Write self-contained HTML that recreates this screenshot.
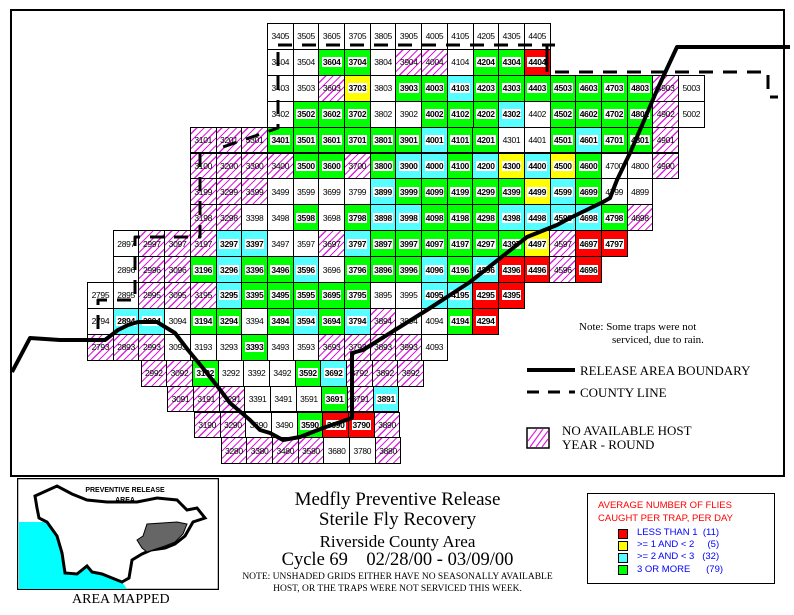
<!DOCTYPE html>
<html><head><meta charset="utf-8"><style>
*{margin:0;padding:0;box-sizing:border-box}
body{width:794px;height:615px;background:#fff;position:relative;overflow:hidden;font-family:"Liberation Sans",sans-serif}
.frame{position:absolute;left:10px;top:9px;width:775px;height:468px;border:2px solid #000}
.row{position:absolute;display:flex;height:26.9px}
.row i{font-style:normal;display:flex;align-items:center;justify-content:center;width:26.7px;height:26.9px;margin-right:-1px;border:1px solid #000;background:#fff;font-size:8.5px;color:#000;letter-spacing:-0.3px}
.row i.g,.row i.c,.row i.y,.row i.x{font-weight:bold}
.row i.g{background:#00ff00}.row i.c{background:#55ffff}.row i.y{background:#ffff00}.row i.x{background:#ff0000}
.row i.g span,.row i.c span,.row i.y span,.row i.x span{background:#fff;padding:0 1px}
.row i.h{background:repeating-linear-gradient(-45deg,#fff 0 4px,#e020e0 4px 5.2px)}
.serif{font-family:"Liberation Serif",serif;position:absolute;white-space:nowrap}
</style></head><body>
<div class="frame"></div>

<div class="row" style="top:23px;left:267px"><i>3405</i><i>3505</i><i>3605</i><i>3705</i><i>3805</i><i>3905</i><i>4005</i><i>4105</i><i>4205</i><i>4305</i><i>4405</i></div>
<div class="row" style="top:48.9px;left:267px"><i>3404</i><i>3504</i><i class="g"><span>3604</span></i><i class="g"><span>3704</span></i><i>3804</i><i class="h">3904</i><i class="h">4004</i><i>4104</i><i class="g"><span>4204</span></i><i class="g"><span>4304</span></i><i class="x"><span>4404</span></i></div>
<div class="row" style="top:74.8px;left:267px"><i>3403</i><i>3503</i><i class="h">3603</i><i class="y"><span>3703</span></i><i>3803</i><i class="g"><span>3903</span></i><i class="g"><span>4003</span></i><i class="c"><span>4103</span></i><i class="g"><span>4203</span></i><i class="g"><span>4303</span></i><i class="g"><span>4403</span></i><i class="g"><span>4503</span></i><i class="g"><span>4603</span></i><i class="g"><span>4703</span></i><i class="g"><span>4803</span></i><i class="h">4903</i><i>5003</i></div>
<div class="row" style="top:100.7px;left:267px"><i>3402</i><i class="g"><span>3502</span></i><i class="g"><span>3602</span></i><i class="g"><span>3702</span></i><i>3802</i><i>3902</i><i class="g"><span>4002</span></i><i class="g"><span>4102</span></i><i class="g"><span>4202</span></i><i class="c"><span>4302</span></i><i>4402</i><i class="g"><span>4502</span></i><i class="g"><span>4602</span></i><i class="g"><span>4702</span></i><i class="g"><span>4802</span></i><i class="h">4902</i><i>5002</i></div>
<div class="row" style="top:126.6px;left:189.9px"><i class="h">3101</i><i class="h">3201</i><i class="h">3301</i><i class="g"><span>3401</span></i><i class="g"><span>3501</span></i><i class="g"><span>3601</span></i><i class="g"><span>3701</span></i><i class="g"><span>3801</span></i><i class="g"><span>3901</span></i><i class="c"><span>4001</span></i><i class="g"><span>4101</span></i><i class="g"><span>4201</span></i><i>4301</i><i>4401</i><i class="g"><span>4501</span></i><i class="c"><span>4601</span></i><i class="g"><span>4701</span></i><i class="g"><span>4801</span></i><i class="h">4901</i></div>
<div class="row" style="top:152.5px;left:189.9px"><i class="h">3100</i><i class="h">3200</i><i class="h">3300</i><i class="h">3400</i><i class="g"><span>3500</span></i><i class="g"><span>3600</span></i><i class="h">3700</i><i class="g"><span>3800</span></i><i class="c"><span>3900</span></i><i class="c"><span>4000</span></i><i class="g"><span>4100</span></i><i class="c"><span>4200</span></i><i class="y"><span>4300</span></i><i class="c"><span>4400</span></i><i class="y"><span>4500</span></i><i class="g"><span>4600</span></i><i>4700</i><i>4800</i><i class="h">4900</i></div>
<div class="row" style="top:178.4px;left:189.9px"><i class="h">3199</i><i class="h">3299</i><i class="h">3399</i><i>3499</i><i>3599</i><i>3699</i><i>3799</i><i class="c"><span>3899</span></i><i class="g"><span>3999</span></i><i class="g"><span>4099</span></i><i class="g"><span>4199</span></i><i class="g"><span>4299</span></i><i class="g"><span>4399</span></i><i class="y"><span>4499</span></i><i class="c"><span>4599</span></i><i class="g"><span>4699</span></i><i>4799</i><i>4899</i></div>
<div class="row" style="top:204.3px;left:189.9px"><i class="h">3198</i><i class="h">3298</i><i>3398</i><i>3498</i><i class="g"><span>3598</span></i><i>3698</i><i class="g"><span>3798</span></i><i class="c"><span>3898</span></i><i class="c"><span>3998</span></i><i class="g"><span>4098</span></i><i class="g"><span>4198</span></i><i class="g"><span>4298</span></i><i class="c"><span>4398</span></i><i class="c"><span>4498</span></i><i class="c"><span>4598</span></i><i class="c"><span>4698</span></i><i class="g"><span>4798</span></i><i class="h">4898</i></div>
<div class="row" style="top:230.2px;left:112.8px"><i>2897</i><i class="h">2997</i><i class="h">3097</i><i class="h">3197</i><i class="c"><span>3297</span></i><i class="c"><span>3397</span></i><i>3497</i><i>3597</i><i class="h">3697</i><i class="c"><span>3797</span></i><i class="g"><span>3897</span></i><i class="g"><span>3997</span></i><i class="g"><span>4097</span></i><i class="g"><span>4197</span></i><i class="g"><span>4297</span></i><i class="g"><span>4397</span></i><i class="y"><span>4497</span></i><i class="h">4597</i><i class="x"><span>4697</span></i><i class="x"><span>4797</span></i></div>
<div class="row" style="top:256.1px;left:112.8px"><i>2896</i><i class="h">2996</i><i class="h">3096</i><i class="g"><span>3196</span></i><i class="c"><span>3296</span></i><i class="g"><span>3396</span></i><i class="g"><span>3496</span></i><i class="c"><span>3596</span></i><i>3696</i><i class="g"><span>3796</span></i><i class="g"><span>3896</span></i><i class="g"><span>3996</span></i><i class="c"><span>4096</span></i><i class="g"><span>4196</span></i><i class="c"><span>4296</span></i><i class="x"><span>4396</span></i><i class="x"><span>4496</span></i><i class="h">4596</i><i class="x"><span>4696</span></i></div>
<div class="row" style="top:282px;left:87.1px"><i>2795</i><i>2895</i><i class="h">2995</i><i class="h">3095</i><i class="h">3195</i><i class="c"><span>3295</span></i><i class="g"><span>3395</span></i><i class="g"><span>3495</span></i><i class="g"><span>3595</span></i><i class="g"><span>3695</span></i><i class="g"><span>3795</span></i><i>3895</i><i>3995</i><i class="c"><span>4095</span></i><i class="c"><span>4195</span></i><i class="x"><span>4295</span></i><i class="x"><span>4395</span></i></div>
<div class="row" style="top:307.9px;left:87.1px"><i>2794</i><i class="c"><span>2894</span></i><i class="c"><span>2994</span></i><i>3094</i><i class="g"><span>3194</span></i><i class="g"><span>3294</span></i><i>3394</i><i class="g"><span>3494</span></i><i class="c"><span>3594</span></i><i class="g"><span>3694</span></i><i class="c"><span>3794</span></i><i class="h">3894</i><i>3994</i><i>4094</i><i class="g"><span>4194</span></i><i class="x"><span>4294</span></i></div>
<div class="row" style="top:333.8px;left:87.1px"><i class="h">2793</i><i class="h">2893</i><i class="h">2993</i><i>3093</i><i>3193</i><i>3293</i><i class="g"><span>3393</span></i><i>3493</i><i>3593</i><i class="h">3693</i><i class="h">3793</i><i class="h">3893</i><i class="h">3993</i><i>4093</i></div>
<div class="row" style="top:359.7px;left:140.5px"><i class="h">2992</i><i class="h">3092</i><i class="g"><span>3192</span></i><i>3292</i><i>3392</i><i>3492</i><i class="g"><span>3592</span></i><i class="c"><span>3692</span></i><i class="h">3792</i><i class="h">3892</i><i class="h">3992</i></div>
<div class="row" style="top:385.6px;left:167.2px"><i class="h">3091</i><i class="h">3191</i><i class="h">3291</i><i>3391</i><i>3491</i><i>3591</i><i class="g"><span>3691</span></i><i class="h">3791</i><i class="c"><span>3891</span></i></div>
<div class="row" style="top:411.5px;left:193.9px"><i class="h">3190</i><i class="h">3290</i><i>3390</i><i>3490</i><i class="g"><span>3590</span></i><i class="x"><span>3690</span></i><i class="x"><span>3790</span></i><i class="h">3890</i></div>
<div class="row" style="top:437.4px;left:220.6px"><i class="h">3280</i><i class="h">3380</i><i class="h">3480</i><i class="h">3580</i><i>3680</i><i>3780</i><i class="h">3880</i></div>

<svg style="position:absolute;left:0;top:0" width="794" height="615">
<g fill="none" stroke="#000" stroke-linejoin="round">
<polyline stroke-width="4" points="12,372 30,338 60,340 88,340 105,340 118,330 128,325 138,322 157,322 175,333 188,350 202,367 218,387 230,403 250,420 260,430 270,433 283,440 300,437 323,428 352,418 352,353 363,350 427,310 470,282 527,237 557,225 570,218 603,202 610,198 617,180 630,153 643,123 657,90 677,47 790,47"/>
<g stroke-width="3" stroke-dasharray="14,10">
<polyline points="278,45 555,45"/>
<polyline points="555,72 768,72 768,97 778,97"/>
<polyline points="278,52 278,128 220,148"/>
<polyline points="200,153 200,237 135,237 135,300 98,300 98,330"/>
</g>
<line x1="547" y1="45" x2="547" y2="72" stroke-width="3"/>
<line x1="527" y1="370" x2="575" y2="370" stroke-width="4"/>
<line x1="527" y1="392" x2="575" y2="392" stroke-width="3" stroke-dasharray="12,9"/>
</g>
<rect x="527" y="428" width="22" height="20" fill="#fff" stroke="#000" stroke-width="1.5"/>
<g stroke="#e020e0" stroke-width="1.2"><line x1="528" y1="441" x2="537" y2="429"/><line x1="530" y1="447" x2="543" y2="429"/><line x1="536" y1="447" x2="548" y2="431"/><line x1="542" y1="447" x2="548" y2="439"/></g>
</svg>

<div class="serif" style="left:579px;top:321px;font-size:11px;line-height:13px">Note: Some traps were not<br>&nbsp;&nbsp;&nbsp;&nbsp;&nbsp;&nbsp;&nbsp;&nbsp;&nbsp;&nbsp;&nbsp;&nbsp;serviced, due to rain.</div>
<div class="serif" style="left:580px;top:363px;font-size:13px">RELEASE AREA BOUNDARY</div>
<div class="serif" style="left:580px;top:385px;font-size:13px">COUNTY LINE</div>
<div class="serif" style="left:562px;top:424px;font-size:13px;line-height:14px">NO AVAILABLE HOST<br>YEAR - ROUND</div>

<svg style="position:absolute;left:17px;top:478px" width="202" height="112">
<rect x="0.5" y="0.5" width="201" height="111" fill="#fff" stroke="#000" stroke-width="1.5"/>
<path d="M2,44 L30,44 L40,58 L45,75 L48,95 L60,96 L70,88 L75,94 L85,96 L95,100 L105,104 L110,111 L2,111 Z" fill="#00ffff"/>
<path d="M18,18 L40,8 L55,16 L70,22 L90,24 L120,24 L140,20 L160,22 L170,32 L180,30 L188,40 L176,44 L168,58 L158,66 L148,70 L134,72 L125,76 L115,82 L112,100 L105,104 L95,100 L85,96 L75,94 L70,88 L60,96 L48,95 L45,75 L40,58 L30,44 L22,40 L20,30 Z" fill="none" stroke="#000" stroke-width="3"/>
<path d="M130,46 L160,44 L170,46 L166,56 L158,64 L148,68 L136,72 L130,74 L125,70 L120,62 L126,58 Z" fill="#666" stroke="#000" stroke-width="1"/>
<text x="108" y="14" font-family="Liberation Sans,sans-serif" font-size="7" font-weight="bold" text-anchor="middle">PREVENTIVE RELEASE</text>
<text x="108" y="24" font-family="Liberation Sans,sans-serif" font-size="7" font-weight="bold" text-anchor="middle">AREA</text>
</svg>
<div class="serif" style="left:72px;top:592px;font-size:14px">AREA MAPPED</div>

<div class="serif" style="left:220px;width:355px;text-align:center;top:490px;font-size:19px;line-height:20px">Medfly Preventive Release<br>Sterile Fly Recovery</div>
<div class="serif" style="left:220px;width:355px;text-align:center;top:532px;font-size:17px">Riverside County Area</div>
<div class="serif" style="left:220px;width:355px;text-align:center;top:550px;font-size:18.5px">Cycle 69&nbsp;&nbsp;&nbsp;&nbsp;02/28/00 - 03/09/00</div>
<div class="serif" style="left:220px;width:355px;text-align:center;top:571px;font-size:9.5px;line-height:12px">NOTE: UNSHADED GRIDS EITHER HAVE NO SEASONALLY AVAILABLE<br>HOST, OR THE TRAPS WERE NOT SERVICED THIS WEEK.</div>

<div style="position:absolute;left:587px;top:493px;width:188px;height:91px;border:1.5px solid #000;font-size:9.5px">
<div style="position:absolute;left:10px;top:5px;color:#f00;line-height:13px">AVERAGE NUMBER OF FLIES<br>CAUGHT PER TRAP, PER DAY</div>
<div style="position:absolute;left:30px;top:35px;width:10px;height:10px;background:#f00;border:1px solid #000"></div>
<div style="position:absolute;left:30px;top:47px;width:10px;height:10px;background:#ff0;border:1px solid #000"></div>
<div style="position:absolute;left:30px;top:59px;width:10px;height:10px;background:#5ff;border:1px solid #000"></div>
<div style="position:absolute;left:30px;top:71px;width:10px;height:10px;background:#0f0;border:1px solid #000"></div>
<div style="position:absolute;left:49px;top:33px;color:#00f;line-height:12.2px;white-space:pre">LESS THAN 1  (11)
&gt;= 1 AND &lt; 2     (5)
&gt;= 2 AND &lt; 3   (32)
3 OR MORE      (79)</div>
</div>
</body></html>
